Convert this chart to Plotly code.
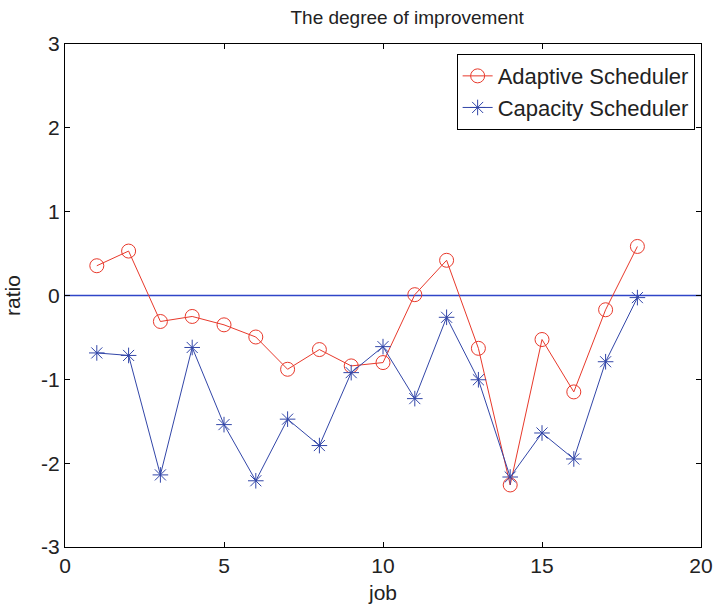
import plotly.graph_objects as go

jobs = list(range(1, 19))
adaptive = [0.355, 0.53, -0.31, -0.25, -0.35, -0.495, -0.88, -0.645, -0.84, -0.80,
            0.01, 0.42, -0.63, -2.26, -0.525, -1.15, -0.17, 0.585]
capacity = [-0.685, -0.715, -2.14, -0.62, -1.54, -2.21, -1.475, -1.79, -0.92, -0.61,
            -1.23, -0.26, -1.005, -2.165, -1.64, -1.95, -0.79, -0.025]
zero_x = [0, 20]
zero_y = [0, 0]
x_ticks = [0, 5, 10, 15, 20]
y_ticks = [-3, -2, -1, 0, 1, 2, 3]

RED = "#e8392b"
BLUE = "#3246a8"
ZERO = "#2f45c8"
FONT = "Liberation Sans, Arial, sans-serif"
TXT = "#222"

fig = go.Figure()
fig.add_trace(go.Scatter(x=zero_x, y=zero_y, mode="lines", showlegend=False, hoverinfo="skip",
                         line=dict(color=ZERO, width=1.5)))
fig.add_trace(go.Scatter(x=jobs, y=adaptive, mode="lines+markers", name="Adaptive Scheduler",
                         line=dict(color=RED, width=1),
                         marker=dict(symbol="circle-open", size=14, color=RED, line=dict(width=1, color=RED))))
fig.add_trace(go.Scatter(x=jobs, y=capacity, mode="lines+markers", name="Capacity Scheduler",
                         line=dict(color=BLUE, width=1),
                         marker=dict(symbol="asterisk-open", size=13, color=BLUE, line=dict(width=1, color=BLUE))))

axis_common = dict(showgrid=False, zeroline=False, showline=True, linecolor="black", linewidth=1,
                   mirror="ticks", ticks="inside", ticklen=5, tickcolor="black",
                   tickfont=dict(size=21, color=TXT, family=FONT))

fig.update_xaxes(range=[0, 20], tickvals=x_ticks, ticktext=[str(v) for v in x_ticks],
                 title=dict(text="job", font=dict(size=21, color=TXT, family=FONT), standoff=9),
                 **axis_common)
fig.update_yaxes(range=[-3, 3], tickvals=y_ticks, ticktext=[str(v) for v in y_ticks],
                 title=dict(text="ratio", font=dict(size=21, color=TXT, family=FONT), standoff=14),
                 **axis_common)

fig.update_layout(
    width=725, height=613,
    margin=dict(l=65, r=17, t=44, b=65),
    paper_bgcolor="white", plot_bgcolor="white",
    title=dict(text="The degree of improvement", xref="paper", x=0.538, xanchor="center",
               y=0.972, yanchor="middle",
               font=dict(size=19, color=TXT, family=FONT)),
    font=dict(family=FONT, color=TXT),
    legend=dict(x=0.99, y=0.98, xanchor="right", yanchor="top",
                bordercolor="black", borderwidth=1, bgcolor="white",
                font=dict(size=22, color=TXT, family=FONT),
                tracegroupgap=0),
    showlegend=True,
)

fig.write_html("out.html")
